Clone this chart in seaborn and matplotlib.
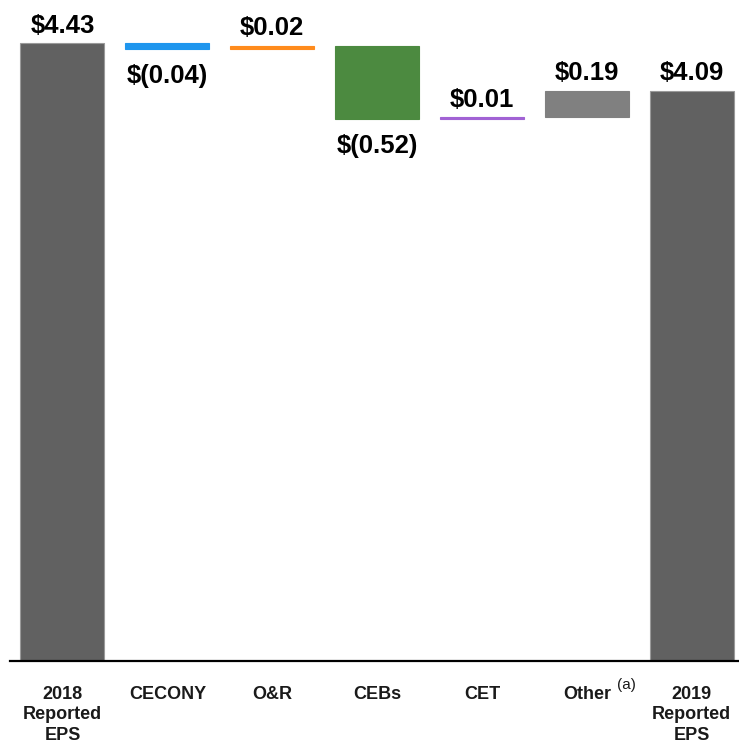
import matplotlib
matplotlib.use("Agg")
import matplotlib.pyplot as plt
import matplotlib.transforms as mtransforms
import seaborn as sns

# EPS walk 2018 -> 2019
categories = ["2018\nReported\nEPS", "CECONY", "O&R", "CEBs", "CET", "Other", "2019\nReported\nEPS"]
changes = [4.43, -0.04, 0.02, -0.52, 0.01, 0.19, 4.09]
is_total = [True, False, False, False, False, False, True]
value_labels = ["$4.43", "$(0.04)", "$0.02", "$(0.52)", "$0.01", "$0.19", "$4.09"]
bar_colors = ["#616161", "#1f96ee", "#ff8b1c", "#4c8a40", "#a162d4", "#808080", "#616161"]
footnote = "(a)"


def waterfall_bounds(values, totals):
    """Returns bottom and height of each bar of the waterfall."""
    bottoms, heights = [], []
    running = 0.0
    for v, tot in zip(values, totals):
        if tot:
            bottoms.append(0.0)
            heights.append(v)
            running = v
        else:
            bottoms.append(running)
            heights.append(v)
            running += v
    return bottoms, heights


def plot_eps_walk(save_path="out.png"):
    sns.set_style("white")
    plt.rcParams["font.family"] = ["Liberation Sans", "DejaVu Sans"]

    fig = plt.figure(figsize=(7.39, 7.44), dpi=100)
    ax = fig.add_axes([10 / 739, 83 / 744, 729 / 739, 661 / 744])

    bottoms, heights = waterfall_bounds(changes, is_total)
    for i, cat in enumerate(categories):
        edge = "#9a9a9a" if is_total[i] else bar_colors[i]
        sns.barplot(x=[cat], y=[heights[i]], order=categories, bottom=bottoms[i],
                    color=bar_colors[i], saturation=1, width=0.8,
                    edgecolor=edge, linewidth=0.8, ax=ax)

    # value labels: above for increases / totals, below for decreases
    for i, lab in enumerate(value_labels):
        y = bottoms[i] + heights[i]
        if heights[i] >= 0:
            ax.annotate(lab, (i, y), xytext=(0, 4), textcoords="offset points",
                        ha="center", va="bottom", fontsize=18.5, fontweight="bold",
                        color="black")
        else:
            ax.annotate(lab, (i, y), xytext=(0, -11), textcoords="offset points",
                        ha="center", va="top", fontsize=18.5, fontweight="bold",
                        color="black")

    ax.set_xlim(-0.5, 6.45)
    ax.set_ylim(0, 4.74)
    ax.set_xticks(range(len(categories)))
    ax.set_xticklabels(categories, fontsize=13, fontweight="bold", color="#1a1a1a",
                       linespacing=1.25)
    ax.tick_params(axis="x", length=0, pad=18)
    ax.set_yticks([])
    ax.set_xlabel("")
    ax.set_ylabel("")
    for side in ["left", "top", "right"]:
        ax.spines[side].set_visible(False)
    ax.spines["bottom"].set_color("black")
    ax.spines["bottom"].set_linewidth(1.6)

    trans = mtransforms.blended_transform_factory(ax.transData, ax.transAxes)
    ax.text(5.29, -0.025, footnote, transform=trans, ha="left", va="top",
            fontsize=11, color="#1a1a1a")

    fig.savefig(save_path, dpi=100)
    plt.close(fig)


if __name__ == "__main__":
    plot_eps_walk()
